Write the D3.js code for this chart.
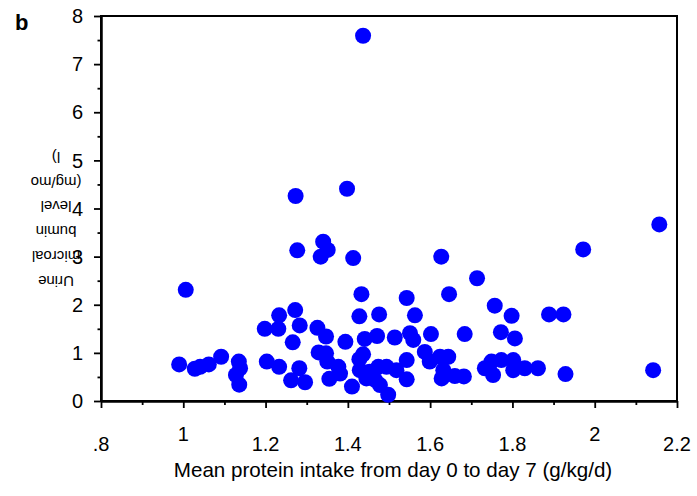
<!DOCTYPE html>
<html>
<head>
<meta charset="utf-8">
<script src="https://cdn.jsdelivr.net/npm/d3@7"></script>
<style>
  html, body { margin: 0; padding: 0; background: #fff; }
  svg { display: block; }
  text { font-family: "Liberation Sans", Arial, sans-serif; fill: #000; }
</style>
</head>
<body>
<svg id="chart" width="697" height="496"></svg>
<script>
// Mean protein intake (g/kg/d)
const proteinIntake = [
  1.437, 1.273, 1.398, 1.277, 1.340, 1.351, 1.334, 1.413, 1.006, 1.433,
  1.627, 1.714, 1.972, 2.157, 1.543, 1.646, 1.757, 1.798, 1.563, 1.889,
  1.924, 2.142, 1.929,
  1.272, 1.233, 1.283, 1.198, 1.231, 1.326, 1.347, 1.428, 1.476, 1.441,
  1.471, 1.266, 1.394, 1.514, 1.551, 1.559, 1.602, 1.684, 1.772, 1.806,
  1.329, 1.347, 1.437, 1.428, 1.350, 1.377, 1.381, 0.990, 1.028, 1.041,
  1.062, 1.092, 1.135, 1.138, 1.128, 1.136, 1.203, 1.233, 1.282, 1.262,
  1.296, 1.355, 1.410, 1.429, 1.453, 1.474, 1.494, 1.466, 1.478, 1.498,
  1.518, 1.543, 1.543, 1.445, 1.587, 1.599, 1.624, 1.644, 1.628, 1.660,
  1.682, 1.632, 1.733, 1.749, 1.753, 1.773, 1.802, 1.802, 1.830, 1.862
];
// Urine microalbumin level (mg/mol)
const microalbumin = [
  7.59, 4.26, 4.41, 3.13, 3.31, 3.14, 3.00, 2.97, 2.31, 2.22,
  3.00, 2.55, 3.15, 3.67, 2.14, 2.22, 1.98, 1.77, 1.78, 1.80,
  1.80, 0.64, 0.56,
  1.89, 1.78, 1.57, 1.50, 1.50, 1.52, 1.34, 1.76, 1.80, 1.29,
  1.35, 1.22, 1.23, 1.32, 1.41, 1.27, 1.39, 1.39, 1.43, 1.30,
  1.01, 0.99, 0.97, 0.87, 0.82, 0.71, 0.57, 0.76, 0.67, 0.71,
  0.76, 0.92, 0.82, 0.68, 0.54, 0.34, 0.82, 0.71, 0.68, 0.43,
  0.39, 0.46, 0.30, 0.64, 0.61, 0.71, 0.71, 0.44, 0.33, 0.13,
  0.64, 0.85, 0.45, 0.47, 1.02, 0.82, 0.92, 0.92, 0.47, 0.52,
  0.51, 0.64, 0.68, 0.82, 0.54, 0.85, 0.85, 0.64, 0.68, 0.68
];

const xMajorTicks = [0.8, 1.0, 1.2, 1.4, 1.6, 1.8, 2.0, 2.2];
const xMinorTicks = [0.9, 1.1, 1.3, 1.5, 1.7, 1.9, 2.1];
const xTickLabels = [".8", "1", "1.2", "1.4", "1.6", "1.8", "2", "2.2"];
const yMajorTicks = [0, 1, 2, 3, 4, 5, 6, 7, 8];
const yMinorTicks = [0.5, 1.5, 2.5, 3.5, 4.5, 5.5, 6.5, 7.5];
const yTickLabels = ["0", "1", "2", "3", "4", "5", "6", "7", "8"];
const xTitle = "Mean protein intake from day 0 to day 7 (g/kg/d)";
const yTitleLines = ["Urine", "microal", "bumin", "level", "(mg/mo", "l)"];
const panelLabel = "b";

const svg = d3.select("#chart");
const pLeft = 101, pRight = 677, pTop = 16, pBottom = 401;

const x = d3.scaleLinear().domain([0.8, 2.2]).range([pLeft, pRight]);
const y = d3.scaleLinear().domain([0, 8]).range([pBottom, pTop]);

// frame
svg.append("rect")
  .attr("x", pLeft).attr("y", pTop)
  .attr("width", pRight - pLeft).attr("height", pBottom - pTop)
  .attr("fill", "none").attr("stroke", "#000").attr("stroke-width", 2);

// x ticks
const xMajAxis = d3.axisBottom(x).tickValues(xMajorTicks).tickSize(7).tickFormat("").tickSizeOuter(0);
const xMinAxis = d3.axisBottom(x).tickValues(xMinorTicks).tickSize(4).tickFormat("").tickSizeOuter(0);
[xMajAxis, xMinAxis].forEach(ax => {
  const g = svg.append("g").attr("transform", `translate(0,${pBottom})`).call(ax);
  g.select(".domain").attr("stroke", "#000").attr("stroke-width", 2);
  g.selectAll(".tick line").attr("stroke", "#000").attr("stroke-width", 1.8);
});
// y ticks
const yMajAxis = d3.axisLeft(y).tickValues(yMajorTicks).tickSize(7).tickFormat("").tickSizeOuter(0);
const yMinAxis = d3.axisLeft(y).tickValues(yMinorTicks).tickSize(3.5).tickFormat("").tickSizeOuter(0);
[yMajAxis, yMinAxis].forEach(ax => {
  const g = svg.append("g").attr("transform", `translate(${pLeft},0)`).call(ax);
  g.select(".domain").attr("stroke", "#000").attr("stroke-width", 2);
  g.selectAll(".tick line").attr("stroke", "#000").attr("stroke-width", 1.8);
});

// x tick labels (integer values sit higher)
svg.append("g").selectAll("text")
  .data(xMajorTicks)
  .join("text")
  .attr("x", d => x(d))
  .attr("y", d => Number.isInteger(Math.round(d * 1000) / 1000) ? 441 : 451)
  .attr("text-anchor", "middle")
  .attr("font-size", 20)
  .text((d, i) => xTickLabels[i]);

// y tick labels
svg.append("g").selectAll("text")
  .data(yMajorTicks)
  .join("text")
  .attr("x", 83)
  .attr("y", d => y(d))
  .attr("dy", "0.36em")
  .attr("text-anchor", "end")
  .attr("font-size", 20)
  .text((d, i) => yTickLabels[i]);

// points
svg.append("g").selectAll("circle")
  .data(proteinIntake.map((v, i) => [v, microalbumin[i]]))
  .join("circle")
  .attr("cx", d => x(d[0]))
  .attr("cy", d => y(d[1]))
  .attr("r", 8)
  .attr("fill", "#0000ff");

// x title
svg.append("text")
  .attr("x", 393).attr("y", 477)
  .attr("text-anchor", "middle")
  .attr("font-size", 20.6)
  .text(xTitle);

// y title (rotated 180, wrapped)
const yt = svg.append("g").attr("transform", "translate(56,219) rotate(180)");
yt.selectAll("text")
  .data(yTitleLines)
  .join("text")
  .attr("x", 0)
  .attr("y", (d, i) => -62 + i * 24.8)
  .attr("dy", "0.35em")
  .attr("text-anchor", "middle")
  .attr("font-size", 15)
  .text(d => d);

// panel label
svg.append("text")
  .attr("x", 15).attr("y", 30)
  .attr("font-size", 22)
  .attr("font-weight", "bold")
  .text(panelLabel);
</script>
</body>
</html>
